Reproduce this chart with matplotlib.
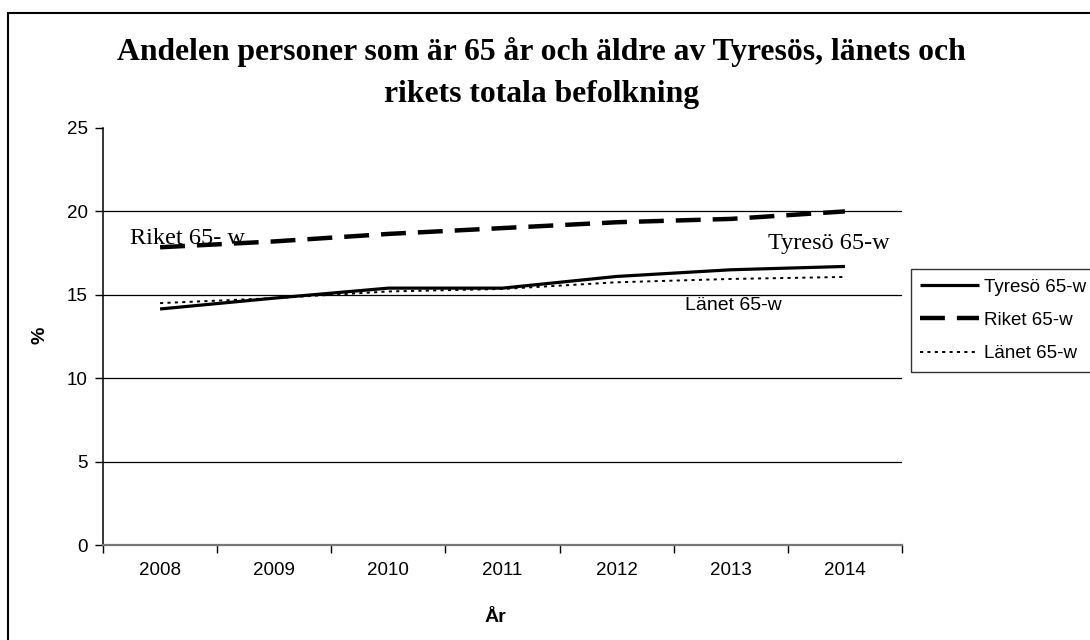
import matplotlib.pyplot as plt
from matplotlib.patches import Rectangle

# data
years = ["2008", "2009", "2010", "2011", "2012", "2013", "2014"]
tyreso = [14.15, 14.8, 15.4, 15.4, 16.1, 16.5, 16.7]
riket = [17.85, 18.2, 18.65, 19.0, 19.35, 19.55, 20.0]
lanet = [14.5, 14.8, 15.2, 15.35, 15.75, 15.95, 16.07]

W, H = 1090, 640
x = list(range(len(years)))


def fx(px):
    return px / W


def fy(py):
    # pixel row measured from the top -> figure fraction
    return 1 - py / H


fig = plt.figure(figsize=(W / 100, H / 100), dpi=100)
ax = fig.add_axes([fx(103), fy(545), 799 / W, 417 / H])

sans = "Liberation Sans"
serif = "Liberation Serif"

ax.plot(x, tyreso, color="black", lw=2.3, solid_capstyle="butt", label="Tyresö 65-w", zorder=3)
ax.plot(x, riket, color="black", lw=3.2, dashes=(5.6, 2.7), dash_capstyle="butt", label="Riket 65-w", zorder=3)
ax.plot(x, lanet, color="black", lw=1.4, dashes=(1.6, 2.2), label="Länet 65-w", zorder=3)

ax.set_xlim(-0.5, len(years) - 0.5)
ax.set_ylim(0, 25)

# category style x axis: ticks at boundaries, labels in the middle
ax.set_xticks([i - 0.5 for i in range(len(years) + 1)])
ax.set_xticklabels([])
ax.set_xticks(x, minor=True)
ax.set_xticklabels(years, minor=True, fontsize=13.5, fontfamily=sans)
ax.tick_params(axis="x", which="major", length=6, width=1, color="black", direction="out")
ax.tick_params(axis="x", which="minor", length=0, pad=12)

ax.set_yticks([0, 5, 10, 15, 20, 25])
ax.set_yticklabels(["0", "5", "10", "15", "20", "25"], fontsize=13.5, fontfamily=sans)
ax.tick_params(axis="y", length=6, width=1, color="black", pad=5)

for v in [5, 10, 15, 20]:
    ax.axhline(v, color="black", lw=0.9, zorder=1)

for s in ["top", "right"]:
    ax.spines[s].set_visible(False)
ax.spines["left"].set_color("black")
ax.spines["left"].set_linewidth(1.1)
ax.spines["bottom"].set_color("#777777")
ax.spines["bottom"].set_linewidth(1.6)

# in-chart labels
fig.text(fx(130), fy(244), "Riket 65- w", fontsize=17.5, fontfamily=serif, va="baseline")
fig.text(fx(768), fy(243), "Tyresö 65-w", fontsize=17.5, fontfamily=serif, va="center")
fig.text(fx(685), fy(305), "Länet 65-w", fontsize=14, fontfamily=sans, va="center")

fig.text(fx(541), fy(73), "Andelen personer som är 65 år och äldre av Tyresös, länets och\nrikets totala befolkning",
         ha="center", va="center", fontsize=22.8, fontweight="bold", fontfamily=serif, linespacing=1.62)

fig.text(fx(495), fy(617), "År", ha="center", va="center", fontsize=14, fontweight="bold", fontfamily=sans)
fig.text(fx(40), fy(335), "%", ha="center", va="center", rotation=90, fontsize=14,
         fontweight="bold", fontfamily=sans)

leg = fig.legend(loc="upper left", bbox_to_anchor=(fx(911), fy(269)), frameon=True, fancybox=False,
                 prop={"family": sans, "size": 13.5}, handlelength=3.1, handletextpad=0.3,
                 labelspacing=0.87, borderpad=0.5, borderaxespad=0)
leg.get_frame().set_edgecolor("black")
leg.get_frame().set_linewidth(1.0)

fig.patches.append(Rectangle((fx(8), -0.1), 1.2, fy(13) + 0.1, transform=fig.transFigure,
                             fill=False, edgecolor="black", lw=1.5))

fig.savefig("out.png", dpi=100)
